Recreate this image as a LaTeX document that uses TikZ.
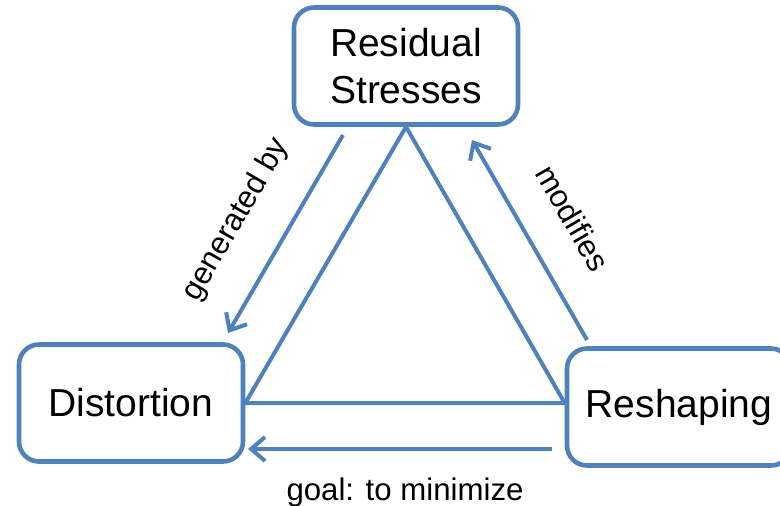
\documentclass[tikz,border=0pt]{standalone}
\usepackage{fontspec}
\setmainfont{Liberation Sans}
\usetikzlibrary{arrows.meta}
\definecolor{boxblue}{RGB}{79,129,189}
\tikzset{
  cbox/.style={draw=boxblue, line width=2.3pt, rounded corners=10pt, fill=white,
    minimum width=112pt, minimum height=58.5pt, align=center,
    font=\fontsize{19.5}{23.5}\selectfont},
  link/.style={draw=boxblue, line width=2pt},
  flow/.style={draw=boxblue, line width=2pt, -{Straight Barb[length=7pt,width=12pt]}},
  lbl/.style={font=\fontsize{15.6}{18}\selectfont}
}
\begin{document}
\begin{tikzpicture}[x=0.5pt,y=-0.5pt]
     \useasboundingbox (0,0) rectangle (780,505);
     \clip (0,0) rectangle (780,505);
     \node[cbox] (res)  at (406,66)  {Residual\\Stresses};
     \node[cbox] (dist) at (131,403) {Distortion};
     \node[cbox] (resh) at (679,407) {Reshaping};
     % triangle between the three boxes
     \draw[link] (res.south) -- (dist.east) -- (dist.east -| resh.west) -- cycle;
     % arrows with their labels
     \coordinate (gena) at (343,135);
     \coordinate (genb) at (228,333);
     \coordinate (moda) at (587,340);
     \coordinate (modb) at (472,140);
     \coordinate (goala) at (552,449);
     \coordinate (goalb) at (248,449);
     \draw[flow] (gena) -- (genb);
     \draw[flow] (moda) -- (modb);
     \draw[flow] (goala) -- (goalb);
     \node[lbl, rotate=60]  (genlbl)  at (236,220) {generated by};
     \node[lbl, rotate=-60] (modlbl)  at (573,218) {modifies};
     \node[lbl, anchor=base] (goallbl) at (405,500) {goal: to minimize};
\end{tikzpicture}
\end{document}
